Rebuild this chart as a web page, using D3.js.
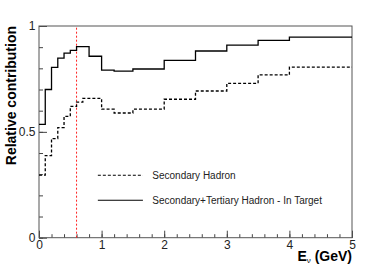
<!DOCTYPE html>
<html>

<head>
    <meta charset="utf-8">
    <style>
        body {
            margin: 0;
            background: white;
        }

        svg {
            font-family: 'Liberation Sans', Arial, sans-serif;
        }

        .axis .domain {
            display: none;
        }

        .axis .tick line {
            stroke: #444;
        }

        .axis .tick text {
            font-size: 12px;
            fill: #222;
        }
    </style>
</head>

<body>
    <svg width="391" height="265"></svg>
</body>

<script src="https://d3js.org/d3.v7.min.js"></script>

<script>
    // bin edges in GeV (variable binning), shared by both histograms
    let binEdges = [0, 0.1, 0.2, 0.3, 0.4, 0.5, 0.6, 0.7, 0.8, 0.9, 1.0, 1.2, 1.5, 2.0, 2.5, 3.0, 3.5, 4.0, 5.0]

    // one value per bin
    let secondary = [0.296, 0.388, 0.468, 0.52, 0.573, 0.62, 0.64, 0.658, 0.658, 0.658, 0.607, 0.589, 0.607, 0.654, 0.693, 0.729, 0.769, 0.806]
    let secTertInTarget = [0.535, 0.70, 0.805, 0.848, 0.872, 0.885, 0.903, 0.903, 0.857, 0.857, 0.792, 0.787, 0.797, 0.838, 0.882, 0.91, 0.932, 0.947]

    let legendLabels = ["Secondary Hadron", "Secondary+Tertiary Hadron - In Target"]

    let xMajorTicks = [0, 1, 2, 3, 4, 5]
    let xMinorTicks = d3.range(0, 26).map(i => i / 5)
    let yMajorTicks = [0, 0.5, 1]
    let yMinorTicks = d3.range(0, 11).map(i => i / 10)

    let cutEnergy = 0.6 // red marker line

    let width = 391
    let height = 265
    let margin = { top: 26, right: 39, bottom: 27.3, left: 39 }

    let svg = d3.select("svg")

    let x = d3.scaleLinear()
        .domain([0, 5])
        .range([margin.left, width - margin.right])

    let y = d3.scaleLinear()
        .domain([0, 1])
        .range([height - margin.bottom, margin.top])

    // minor ticks first, majors on top
    svg.append("g")
        .attr("class", "x axis minor")
        .attr("transform", `translate(0,${y(0)})`)
        .call(d3.axisBottom(x).tickValues(xMinorTicks).tickSize(-3.5).tickFormat(""))

    svg.append("g")
        .attr("class", "x axis")
        .attr("transform", `translate(0,${y(0)})`)
        .call(d3.axisBottom(x).tickValues(xMajorTicks).tickSize(-7).tickPadding(3).tickFormat(d3.format("~g")))

    svg.append("g")
        .attr("class", "y axis minor")
        .attr("transform", `translate(${x(0)},0)`)
        .call(d3.axisLeft(y).tickValues(yMinorTicks).tickSize(-4).tickFormat(""))

    svg.append("g")
        .attr("class", "y axis")
        .attr("transform", `translate(${x(0)},0)`)
        .call(d3.axisLeft(y).tickValues(yMajorTicks).tickSize(-8).tickPadding(3.5).tickFormat(d3.format("~g")))

    // frame
    svg.append("rect")
        .attr("x", x(0))
        .attr("y", y(1))
        .attr("width", x(5) - x(0))
        .attr("height", y(0) - y(1))
        .style("fill", "none")
        .style("stroke", "#555")
        .style("stroke-width", "1px")

    // red dashed line at 0.6 GeV
    svg.append("line")
        .attr("x1", x(cutEnergy))
        .attr("x2", x(cutEnergy))
        .attr("y1", y(0))
        .attr("y2", y(1))
        .style("stroke", "#f22")
        .style("stroke-width", "1px")
        .style("stroke-dasharray", "2,2")

    // step histograms
    function steps(values) {
        let pts = values.map((v, i) => ({ e: binEdges[i], v: v }))
        pts.push({ e: binEdges[binEdges.length - 1], v: values[values.length - 1] })
        return pts
    }

    let line = d3.line()
        .x(d => x(d.e))
        .y(d => y(d.v))
        .curve(d3.curveStepAfter)

    let series = [
        { name: legendLabels[0], values: secondary, dash: "3,2" },
        { name: legendLabels[1], values: secTertInTarget, dash: null }
    ]

    svg.append("g")
        .selectAll("path")
        .data(series)
        .join("path")
        .attr("d", d => line(steps(d.values)))
        .style("fill", "none")
        .style("stroke", "#000")
        .style("stroke-width", "1.3px")
        .style("stroke-dasharray", d => d.dash)

    // legend
    let legend = svg.append("g")
        .selectAll("g")
        .data(series)
        .join("g")
        .attr("transform", (d, i) => `translate(${x(0.94)},${y(0.295) + i * 25})`)

    legend.append("line")
        .attr("x1", 0)
        .attr("x2", x(1.66) - x(0.94))
        .style("stroke", "#000")
        .style("stroke-width", "1.2px")
        .style("stroke-dasharray", d => d.dash)

    legend.append("text")
        .attr("x", x(1.81) - x(0.94))
        .attr("dy", "0.35em")
        .style("font-size", "10px")
        .style("fill", "#222")
        .text(d => d.name)

    // axis titles
    svg.append("text")
        .attr("transform", `translate(16,${y(1)}) rotate(-90)`)
        .attr("text-anchor", "end")
        .style("font-size", "14px")
        .style("font-weight", "bold")
        .text("Relative contribution")

    let xTitle = svg.append("text")
        .attr("x", x(5))
        .attr("y", 260.5)
        .attr("text-anchor", "end")
        .style("font-size", "14px")
        .style("font-weight", "bold")

    xTitle.append("tspan").text("E")
    xTitle.append("tspan")
        .attr("dy", 2)
        .style("font-size", "8px")
        .style("font-weight", "normal")
        .text("ν")
    xTitle.append("tspan")
        .attr("dy", -2)
        .text(" (GeV)")
</script>

</html>
